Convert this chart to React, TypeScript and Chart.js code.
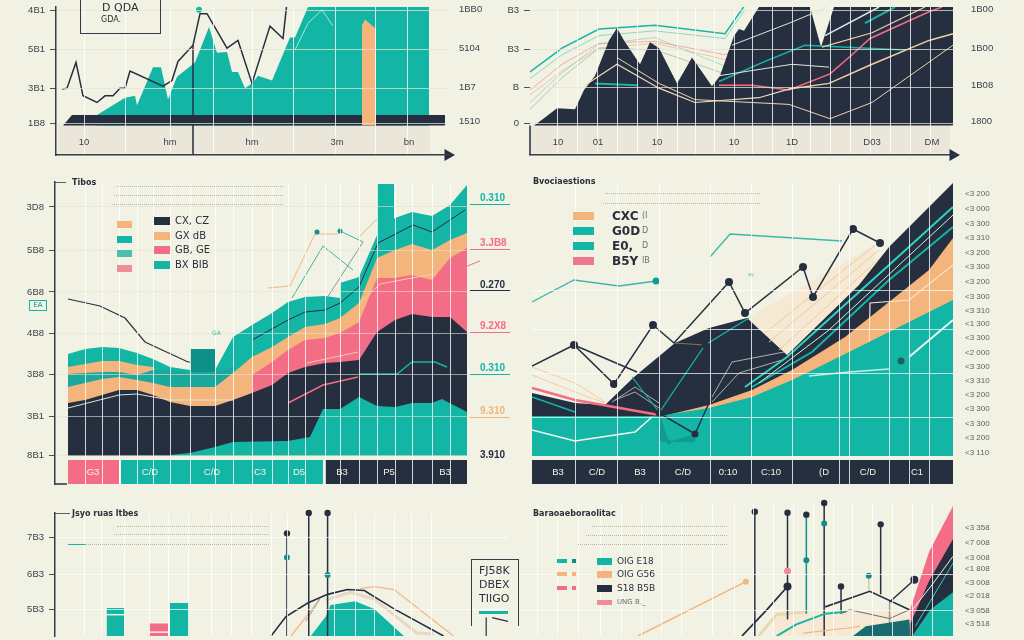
import React, { useEffect, useRef } from "react";
import { Chart, registerables } from "chart.js";
Chart.register(...registerables);

const TEAL = "#13b5a5", DARK = "#262f40", PEACH = "#f3b57c", PINK = "#f36d86", BAND = "#eae7da", DTEAL = "#0e8f88", PALE = "#f6e9d3", GREY = "#9aa09c";

// ---- top left
const tlTealX = [41,69,79,81,97,105,112,121,139,153,161,171,176,182,189,196,202,216,234,239,252,373];
const tlTealY = [11,29,31,21,61,61,27,51,66,103,76,77,56,56,39,44,52,47,92,92,124,124];
const tlBarX = [7,16,389,389];
const tlBarY = [0,11,11,0];
const tlPeachX = [306,306,309,320,320];
const tlPeachY = [0,105,111,101,0];
const tlLineX = [6,11,20,27,41,49,57,64,69,74,107,116,122,137,144,151,171,182,196,214,227,231];
const tlLineY = [38,39,66,31,24,31,31,39,39,57,41,47,67,84,117,117,81,89,44,104,91,129];
const tlThinX = [239,252,266,277];
const tlThinY = [79,107,121,104];
const tlGridX = [28,69,114,157,196,237,279,319,351];
const tlTicksY = [120,80,39,2];
const tlLabelsY = ["4B1","5B1","3B1","1B8"];
const tlTicksR = [121,81,40,4];
const tlLabelsR = ["1BB0","5104","1B7","1510"];
const tlTicksX = [28,114,196,281,353];
const tlLabelsX = ["10","hm","hm","3m","bn"];

// ---- top right
const trDarkX = [4,12,27,45,54,65,79,87,94,110,120,129,147,162,182,190,204,209,214,229,280,291,304,423,423];
const trDarkY = [0,6,18,17,37,52,89,102,89,64,87,81,44,71,41,52,94,101,99,124,124,82,124,124,0];
const trFanX = [0,32,69,125,195,215];
const trFan1 = [56,81,101,105,96,126];
const trFan2 = [49,74,94,99,91,121];
const trFan3 = [37,64,86,88,74,85];
const trFan4 = [32,57,81,86,69,75];
const trFan5 = [17,50,81,79,54,60];
const trFan6 = [24,55,85,92,62,68];
const trPinkX = [189,222,259,300,322,340,399,412];
const trPinkY = [42,42,37,54,74,91,119,124];
const trPeachX = [259,299,342,399,423];
const trPeachY = [38,44,64,89,96];
const trPaleX = [55,87,129,165,229,262];
const trPaleY = [42,64,39,24,29,39];
const trLowX = [87,129,165,259,300,342,423];
const trLowY = [71,44,27,22,7,24,84];
const trTealX = [65,107];
const trTealY = [44,42];
const trTeal2X = [189,235,275,375];
const trTeal2Y = [46,67,84,79];
const trWhite1X = [202,259,298];
const trWhite1Y = [84,107,124];
const trWhite2X = [189,262,299];
const trWhite2Y = [52,64,61];
const trWhite3X = [295,349];
const trWhite3Y = [94,124];
const trWhite4X = [292,342,395];
const trWhite4Y = [82,97,124];
const trTeal3X = [335,365];
const trTeal3Y = [107,124];
const trGridX = [27,47,67,87,107,127,147,165,184,204,222,242,262,280,300,320,340,360,380,400];
const trTicksY = [120,80,40,2];
const trLabelsY = ["B3","B3","B","0"];
const trTicksR = [121,81,42,4];
const trLabelsR = ["1B00","1B00","1B08","1800"];
const trTicksX = [28,68,127,204,262,342,402];
const trLabelsX = ["10","01","10","10","1D","D03","DM"];

// ---- middle left
const mlTopX = [13,30,47,64,82,98,115,135,160,178,197,217,233,250,270,285,285,304,322,340,357,377,395,412];
const mlTopY = [102,107,109,108,103,97,89,86,86,119,131,143,154,159,160,158,173,179,221,238,244,240,251,271];
const mlBar1X = [135,135,160,160];
const mlBar1Y = [0,107,107,0];
const mlBar2X = [322,322,339,339];
const mlBar2Y = [0,272,272,0];
const mlPeachUpX = [13,47,64,82,98,102];
const mlPeachUpY = [89,95,95,91,89,83];
const mlStripX = [13,47,64,82,98,115,135,160,178];
const mlStripY = [82,84,84,81,86,86,84,84,89];
const mlCommonX = [13,30,47,64,82,98,115,135,160,178,197,217,233,250,270,285,304,322,340,357,377,395,412];
const mlPeachY = [69,73,77,79,76,73,69,69,69,83,99,109,119,129,132,138,153,198,206,212,206,216,223];
const mlPinkX = [197,217,233,250,270,285,304,322,340,357,377,395,412];
const mlPinkY = [81,94,106,116,118,123,134,178,178,181,176,198,208];
const mlDarkY = [53,56,61,66,66,61,54,50,50,56,63,71,83,89,93,94,96,124,136,142,139,139,124];
const mlLowX = [115,135,160,178,233,255,268,285,304,322,340,357,377,387,412];
const mlLowY = [1,3,9,14,15,19,47,47,59,50,49,53,53,57,44];
const mlLeadX = [13,45,70,90,133,155];
const mlLeadY = [157,150,138,114,94,94];
const mlRidgeX = [197,233,250,270,285,304,323,358,377,410];
const mlRidgeY = [116,136,144,146,153,169,213,231,224,246];
const mlPeachLineX = [213,235,260,283];
const mlPeachLineY = [168,170,222,222];
const mlTealLineX = [237,268,298];
const mlTealLineY = [158,210,186];
const mlDotX = [262,285];
const mlDotY = [224,225];
const mlDotLineX = [285,308];
const mlDotLineY = [225,214];
const mlBlueX = [272,308];
const mlBlueY = [158,214];
const mlPeach2X = [303,322];
const mlPeach2Y = [218,237];
const mlPinkOutX = [377,425];
const mlPinkOutY = [176,195];
const mlPinkInX = [233,268,303];
const mlPinkInY = [53,71,79];
const mlTealInX = [304,342,357,380,392];
const mlTealInY = [82,82,94,94,89];
const mlWhiteX = [13,64,82,115,178];
const mlWhiteY = [48,61,62,56,56];
const mlPaleX = [252,303];
const mlPaleY = [93,104];
const mlPale2X = [305,325,378];
const mlPale2Y = [153,172,182];
const mlGridX = [30,47,64,82,98,115,135,160,178,197,217,233,250,270,285,304,322,340,357,377,395];
const mlTicksY = [249,206,164,123,82,40,1];
const mlLabelsY = ["3D8","5B8","6B8","4B8","3B8","3B1","8B1"];
const mlTicksR = [252,207,165,124,82,39,-5];
const mlLabelsR = ["0.310","3.JB8","0.270","9.2X8","0.310","9.310","3.910"];
const mlColorsR = [TEAL,PINK,DARK,PINK,TEAL,PEACH,DARK];
const mlTicksX = [38,95,157,205,244,287,334,390];
const mlLabelsX = ["G3","C/D","C/D","C3","D5","B3","P5","B3"];

// ---- middle right
const mrTealX = [0,127,177,220,260,307,357,397,421];
const mrTealY = [40,40,48,59,76,99,124,144,156];
const mrPeachX = [127,177,220,260,313,357,397,421];
const mrPeachY = [39,51,66,86,119,154,186,218];
const mrDarkX = [0,43,73,102,143,177,215,255,327,357,421];
const mrDarkY = [63,53,51,79,113,128,138,101,171,209,273];
const mrCreamX = [215,343];
const mrCreamY = [138,211];
const mrBlackX = [0,42,82,121,142,197,213,271,281,321,348];
const mrBlackY = [90,111,72,131,113,174,143,189,159,227,213];
const mrBlack2X = [42,105];
const mrBlack2Y = [111,84];
const mrBlack3X = [127,163,177];
const mrBlack3Y = [43,22,53];
const mrBrownX = [142,173];
const mrBrownY = [113,111];
const mrDots2X = [127,163,173];
const mrDots2Y = [43,22,111];
const mrTeal1X = [0,42,87,124];
const mrTeal1Y = [154,176,170,175];
const mrPaleTX = [124,178];
const mrPaleTY = [175,199];
const mrTeal2X = [178,198,310];
const mrTeal2Y = [199,222,215];
const mrWhite1X = [0,43,103,120];
const mrWhite1Y = [26,15,24,39];
const mrWhite2X = [277,317,357];
const mrWhite2Y = [80,84,87];
const mrWhite3X = [377,421];
const mrWhite3Y = [99,136];
const mrTealMidX = [127,173,217];
const mrTealMidY = [43,111,138];
const mrWedgeX = [128,137,163];
const mrWedgeY = [41,14,22];
const mrTealLeftX = [100,127];
const mrTealLeftY = [79,44];
const mrFastAX = [213,255,357,421];
const mrFastAY = [69,99,191,249];
const mrFastBX = [220,280,357,421];
const mrFastBY = [69,104,176,229];
const mrFastCX = [227,297,421];
const mrFastCY = [73,126,241];
const mrLeftX = [0,43,73];
const mrLeft1Y = [89,73,54];
const mrLeft2Y = [81,64,53];
const mrPinkX = [0,43,127];
const mrPinkY = [68,56,41];
const mrLeftTX = [0,43];
const mrLeftTY = [59,44];
const mrHump1X = [180,200,252];
const mrHump1Y = [59,94,104];
const mrHump2X = [180,207,250];
const mrHump2Y = [54,83,96];
const mrHump3X = [80,103,127];
const mrHump3Y = [54,69,53];
const mrHump4X = [83,103,127];
const mrHump4Y = [56,64,48];
const mrRay1X = [233,343];
const mrRay1Y = [123,211];
const mrRay2X = [237,347];
const mrRay2Y = [114,206];
const mrRay3X = [247,348];
const mrRay3Y = [106,198];
const mrPeakX = [337,338,377,421];
const mrPeakY = [104,153,156,191];
const mrGridX = [43,85,127,178,220,260,307,317,357,377,397];
const mrGridY = [166,126,83,39];
const mrTicksR = [262,247,232,218,203,189,174,159,145,132,118,103,89,75,61,47,32,18,3];
const mrLabelsR = ["<3 200","<3 000","<3 300","<3 310","<3 200","<3 300","<3 200","<3 300","<3 310","<1 300","<3 300","<2 000","<3 300","<3 310","<3 200","<3 300","<3 300","<3 200","<3 110"];
const mrTicksX = [26,65,108,151,196,239,292,336,385];
const mrLabelsX = ["B3","C/D","B3","C/D","0:10","C:10","(D","C/D","C1"];

// ---- bottom left
const blBar1X = [52,52,70,70];
const blBar1Y = [0,29,29,0];
const blBar2X = [95,95,114,114];
const blBar2Y = [0,13,13,0];
const blBar3X = [116,116,135,135];
const blBar3Y = [0,34,34,0];
const blHumpX = [258,273,278,303,322,352];
const blHumpY = [0,20,32,36,28,0];
const blCurveX = [218,233,255,275,295,312,342,392];
const blCurveY = [0,20,34,43,48,47,28,0];
const blPeach1X = [238,252,267];
const blPeach1Y = [0,18,38];
const blPeach2X = [308,322,342,402];
const blPeach2Y = [49,51,48,0];
const blBeigeX = [273,298,322,365,382];
const blBeigeY = [37,45,38,3,2];
const blGreyX = [253,267];
const blGreyY = [15,38];
const blStemX = [234,256,275];
const blStemTop = [106,127,127];
const blTealDotX = [234,275];
const blTealDotY = [81,63];
const blPointerX = [441,457];
const blPointerY = [19,15];
const blGridX = [30,47,70,95,115,135,158,178,198,218,235,282,303,322,342,360,380];
const blTicksY = [102,64,27];
const blLabelsY = ["7B3","6B3","5B3"];

// ---- bottom right
const brPinkX = [398,417,441];
const brPinkY = [28,87,134];
const brDarkX = [398,417,441];
const brDarkY = [13,57,100];
const brTealX = [400,418,441];
const brTealY = [0,27,45];
const brDeepX = [340,353,397,398];
const brDeepY = [0,10,17,0];
const brCreamX = [260,293,397];
const brCreamY = [25,27,27];
const brBeigeX = [245,263,293];
const brBeigeY = [0,22,25];
const brTealLineX = [263,283,312,333];
const brTealLineY = [0,12,23,25];
const brPeachLowX = [290,333,347];
const brPeachLowY = [3,8,10];
const brWhiteX = [400,420,441];
const brWhiteY = [27,53,82];
const brTealThinX = [403,441];
const brTealThinY = [10,75];
const brPeachX = [123,232];
const brPeachY = [0,56];
const brBlackX = [228,253,274];
const brBlackY = [0,27,51];
const brBlack2X = [312,357,397];
const brBlack2Y = [30,46,27];
const brGreyX = [328,337,377,397];
const brGreyY = [23,27,18,27];
const brArmX = [377,402];
const brArmY = [35,58];
const brStemsX = [241,274,311,368,328];
const brStemsTop = [128,127,137,115,51];
const brStemsLow = [0,17,0,43,23];
const brGridX = [22,42,63,85,106,127,147,167,198,220,240,260,280,300,320,340,360,380,400,420];
const brGridY = [63,26];
const brTicksR = [111,96,81,69,55,41,26,13];
const brLabelsR = ["<3 358","<7 008","<3 008","<1 808","<3 008","<2 018","<3 058","<3 518"];

type Opt = Record<string, any>;
const pts = (x: number[], y: number[]) => x.map((v, i) => ({ x: v, y: y[i] }));
const area = (x: number[], y: number[], c: string, fill: any = "origin"): Opt => ({ data: pts(x, y), backgroundColor: c, borderColor: c, borderWidth: 0, fill, pointRadius: 0, tension: 0 });
const line = (x: number[], y: number[], c: string, w = 1, more: Opt = {}): Opt => ({ data: pts(x, y), borderColor: c, borderWidth: w, fill: false, pointRadius: 0, tension: 0, ...more });
const dots = (x: number[], y: number[], c: string, r = 3, more: Opt = {}): Opt => ({ data: pts(x, y), backgroundColor: c, borderColor: c, showLine: false, pointRadius: r, pointBorderWidth: 0, clip: false, ...more });
const stems = (x: number[], top: number[], low: number[], c: string, w = 1.5): Opt[] => x.map((v, i) => line([v, v], [low[i], top[i]], c, w, { clip: false }));
const arrow = (x: number, y: number): Opt => dots([x], [y], DARK, 7, { pointStyle: "triangle", rotation: 90 });

const fixFit = (size: Record<string, number>) => (s: any) => {
  Object.assign(s, size);
  s.paddingTop = s.paddingBottom = s.paddingLeft = s.paddingRight = 0;
};
const setTicks = (vals: number[]) => (s: any) => { s.ticks = vals.map((value) => ({ value })); };
const font = { family: "'Liberation Sans'", size: 9.5 };

type PanelCfg = {
  left: number; top: number; w: number; h: number; leftW: number; rightW: number; bottomH: number; padTop: number;
  xMax: number; yMin: number; yMax: number; xGrid: number[]; yGrid: number[];
  gridColor?: string; yColor?: string; yLabels?: string[]; yAxisLine?: boolean; xAxisLine?: boolean;
  rTicks?: number[]; rLabels?: string[]; rColors?: string[]; rLen?: number; rPad?: number; rOffset?: number; rFont?: Opt;
  xTicks?: number[]; xLabels?: string[]; xAt?: number; xColor?: string; sets: Opt[];
};

function Panel({ c }: { c: PanelCfg }) {
  const ref = useRef<HTMLCanvasElement>(null);
  useEffect(() => {
    const n = c.sets.length;
    const datasets = c.sets.map((d, i) => ({ type: "line", xAxisID: "x", yAxisID: "y", order: n - i, ...d }));
    const chart = new Chart(ref.current as HTMLCanvasElement, {
      type: "line",
      data: { datasets } as any,
      options: {
        animation: false, responsive: false, maintainAspectRatio: false,
        layout: { padding: { top: c.padTop, left: 0, right: 0, bottom: 0 } },
        plugins: { legend: { display: false }, title: { display: false }, tooltip: { enabled: false } },
        scales: {
          x: {
            type: "linear", min: 0, max: c.xMax, position: "bottom",
            afterFit: fixFit({ height: c.bottomH }), afterBuildTicks: setTicks(c.xGrid),
            ticks: { display: false, autoSkip: false },
            grid: { color: c.gridColor ?? "rgba(255,255,255,0.78)", z: 1, drawTicks: false, lineWidth: 1 },
            border: { display: !!c.xAxisLine, color: "#333a4a", width: 1.5, z: 2 },
          },
          xl: {
            type: "linear", axis: "x", min: 0, max: c.xMax, position: { y: c.xAt ?? 0 },
            afterFit: fixFit({ height: 0 }), afterBuildTicks: setTicks(c.xTicks ?? []),
            ticks: { z: 3, padding: 0, autoSkip: false, maxRotation: 0, minRotation: 0, font, color: c.xColor ?? "#3a3f4a", callback: (_v: any, i: number) => (c.xLabels ?? [])[i] ?? "" },
            grid: { display: false, drawTicks: false }, border: { display: false },
          },
          y: {
            type: "linear", min: c.yMin, max: c.yMax, position: "left",
            afterFit: fixFit({ width: c.leftW }), afterBuildTicks: setTicks(c.yGrid),
            ticks: { display: !!c.yLabels, font, color: "#3a3f4a", padding: 5, autoSkip: false, callback: (_v: any, i: number) => (c.yLabels ?? [])[i] ?? "" },
            grid: { color: c.yColor ?? "rgba(228,228,212,0.75)", z: 1, drawTicks: !!c.yLabels, tickLength: 6, tickColor: "#4a505c", lineWidth: 1 },
            border: { display: !!c.yAxisLine, color: "#333a4a", width: 1.5, z: 2 },
          },
          yr: {
            type: "linear", axis: "y", min: c.yMin, max: c.yMax, position: "right",
            afterFit: fixFit({ width: c.rightW }), afterBuildTicks: setTicks(c.rTicks ?? []),
            ticks: {
              font: c.rFont ?? font, padding: c.rPad ?? 9, labelOffset: c.rOffset ?? 0, autoSkip: false,
              color: (ctx: any) => (c.rColors ?? [])[ctx.index] ?? "#3a3f4a",
              callback: (_v: any, i: number) => (c.rLabels ?? [])[i] ?? "",
            },
            grid: {
              drawOnChartArea: false, drawTicks: !!c.rLen, tickLength: c.rLen ?? 0,
              tickColor: (ctx: any) => (ctx.index === (c.rTicks ?? []).length - 1 ? "transparent" : (c.rColors ?? [])[ctx.index] ?? "transparent"),
            },
            border: { display: false },
          },
        },
      } as any,
    });
    return () => chart.destroy();
  }, []);
  return <canvas ref={ref} width={c.w} height={c.h} style={{ position: "absolute", left: c.left, top: c.top, width: c.w, height: c.h, display: "block" }} />;
}

const topLeft: PanelCfg = {
  left: 0, top: 0, w: 512, h: 163, leftW: 56, rightW: 62, bottomH: 8, padTop: 0, xMax: 394, yMin: -31, yMax: 124,
  xGrid: tlGridX, yGrid: tlTicksY, yLabels: tlLabelsY, yAxisLine: true, xAxisLine: true,
  rTicks: tlTicksR, rLabels: tlLabelsR, rPad: 9, xTicks: tlTicksX, xLabels: tlLabelsX, xAt: -12,
  sets: [
    area([2, 374], [-29, -29], BAND),
    area(tlTealX.concat([373]), tlTealY.concat([11]), TEAL),
    line(tlThinX, tlThinY, "#9fe8dc", 1),
    area(tlBarX, tlBarY, DARK),
    area(tlPeachX, tlPeachY, PEACH),
    line(tlLineX, tlLineY, DARK, 1.5),
    line([137, 137], [84, -31], DARK, 1.5),
    dots([143], [121], TEAL, 3),
    arrow(392, -31),
  ],
};

const topRight: PanelCfg = {
  left: 490, top: 0, w: 534, h: 163, leftW: 40, rightW: 69, bottomH: 8, padTop: 0, xMax: 425, yMin: -31, yMax: 124,
  xGrid: trGridX, yGrid: trTicksY, yLabels: trLabelsY, xAxisLine: true,
  rTicks: trTicksR, rLabels: trLabelsR, rPad: 16, xTicks: trTicksX, xLabels: trLabelsX, xAt: -12,
  sets: [
    area([0, 420], [-29, -29], BAND),
    line(trFanX, trFan2, "rgba(19,181,165,0.45)", 1),
    line(trFanX, trFan3, "rgba(243,109,134,0.55)", 1),
    line(trFanX, trFan4, "rgba(243,181,124,0.7)", 1),
    line(trFanX, trFan5, "rgba(140,170,160,0.6)", 1),
    line(trFanX, trFan6, "rgba(19,181,165,0.35)", 1),
    line(trFanX, trFan1, TEAL, 1.5),
    area(trDarkX, trDarkY, DARK),
    line(trTealX, trTealY, TEAL, 2),
    line(trTeal2X, trTeal2Y, TEAL, 1.5),
    line(trPinkX, trPinkY, PINK, 1.5),
    line(trPeachX, trPeachY, "#f1cfa6", 1.5),
    line(trPaleX, trPaleY, "#f1d9bd", 1.2),
    line(trLowX, trLowY, "#eed2ae", 1),
    line(trWhite1X, trWhite1Y, "#dfe6dc", 1),
    line(trWhite2X, trWhite2Y, "#dfe6dc", 1),
    line(trWhite3X, trWhite3Y, "#cfeee6", 1.5),
    line(trWhite4X, trWhite4Y, "#f1cfa6", 1.2),
    line(trTeal3X, trTeal3Y, TEAL, 2),
    line([0, 0], [0, -31], DARK, 1.5, { clip: false }),
    arrow(423, -31),
  ],
};

const midLeft: PanelCfg = {
  left: 0, top: 178, w: 512, h: 312, leftW: 55, rightW: 42, bottomH: 6, padTop: 4, xMax: 415, yMin: -28, yMax: 274,
  xGrid: mlGridX, yGrid: mlTicksY, yLabels: mlLabelsY, yAxisLine: true, yColor: "rgba(228,228,212,0.6)",
  rTicks: mlTicksR, rLabels: mlLabelsR, rColors: mlColorsR, rLen: 40, rPad: -30, rOffset: -6, rFont: { family: "'Liberation Sans'", size: 10, weight: "bold" },
  xTicks: mlTicksX, xLabels: mlLabelsX, xAt: -11, xColor: "#f4f2e6",
  sets: [
    line([0, 11], [274, 274], DARK, 1.5),
    line([0, 12], [-28, -28], DARK, 1.5, { clip: false }),
    line(mlLeadX, mlLeadY, DARK, 1.2),
    area(mlTopX, mlTopY, TEAL),
    area(mlBar1X, mlBar1Y, DTEAL),
    area(mlBar2X, mlBar2Y, TEAL),
    line(mlRidgeX, mlRidgeY, DARK, 1),
    area(mlPeachUpX, mlPeachUpY, PEACH),
    area(mlStripX, mlStripY, "#1aa99c"),
    area(mlCommonX, mlPeachY, PEACH),
    area(mlPinkX, mlPinkY, PINK),
    line(mlPale2X, mlPale2Y, "#f8cfa8", 1),
    line(mlPaleX, mlPaleY, "#f7c9ad", 1),
    area(mlCommonX, mlDarkY, DARK),
    area(mlLowX, mlLowY, TEAL),
    line(mlWhiteX, mlWhiteY, "#dfe0d6", 1),
    line(mlPinkInX, mlPinkInY, PINK, 1.5),
    line(mlTealInX, mlTealInY, TEAL, 1.5),
    line(mlPeachLineX, mlPeachLineY, PEACH, 1),
    line(mlTealLineX, mlTealLineY, "#3db4a8", 1),
    line(mlBlueX, mlBlueY, "#7f9a9f", 1),
    line(mlDotLineX, mlDotLineY, "#3db4a8", 1),
    line(mlPeach2X, mlPeach2Y, PEACH, 1),
    dots(mlDotX, mlDotY, DTEAL, 2.5),
    line(mlPinkOutX, mlPinkOutY, PINK, 1, { clip: false }),
    dots([425], [195], PINK, 2.5),
    area([13, 64], [-4, -4], PINK, { value: -28 }),
    area([66, 268], [-4, -4], TEAL, { value: -28 }),
    area([270, 412], [-4, -4], DARK, { value: -28 }),
  ],
};

const midRight: PanelCfg = {
  left: 512, top: 178, w: 512, h: 312, leftW: 20, rightW: 71, bottomH: 6, padTop: 4, xMax: 421, yMin: -28, yMax: 274,
  xGrid: mrGridX, yGrid: mrGridY, yColor: "rgba(255,255,255,0.7)",
  rTicks: mrTicksR, rLabels: mrLabelsR, rPad: 12, rFont: { family: "'Liberation Sans'", size: 8 }, rColors: mrTicksR.map(() => "#5d6268"),
  xTicks: mrTicksX, xLabels: mrLabelsX, xAt: -11, xColor: "#f4f2e6",
  sets: [
    area(mrCreamX, mrCreamY, PALE),
    line(mrTeal1X, mrTeal1Y, "#39b8aa", 1.3),
    line(mrPaleTX, mrPaleTY, "#eef1e4", 1.3),
    line(mrTeal2X, mrTeal2Y, "#39b8aa", 1.3),
    line(mrLeftX, mrLeft1Y, "#f5cba0", 1),
    line(mrLeftX, mrLeft2Y, "#f5cba0", 1),
    area(mrDarkX, mrDarkY, DARK),
    line(mrRay1X, mrRay1Y, "#f3c99e", 1),
    line(mrRay2X, mrRay2Y, "#f3c99e", 1),
    line(mrRay3X, mrRay3Y, "#f3c99e", 1),
    line(mrHump1X, mrHump1Y, "#aab0ae", 1),
    line(mrHump2X, mrHump2Y, "#aab0ae", 1),
    line(mrHump3X, mrHump3Y, "#aab0ae", 1),
    line(mrHump4X, mrHump4Y, "#aab0ae", 1),
    line(mrFastAX, mrFastAY, "#2dd4bf", 2),
    line(mrFastBX, mrFastBY, TEAL, 2),
    line(mrFastCX, mrFastCY, "#bdf5e8", 1),
    area(mrPeachX, mrPeachY, PEACH),
    line(mrPeakX, mrPeakY, "#fbe3c8", 1.2),
    line(mrPinkX, mrPinkY, PINK, 2.5),
    area(mrTealX, mrTealY, TEAL),
    line(mrLeftTX, mrLeftTY, TEAL, 1.5),
    area(mrWedgeX, mrWedgeY, "#109c90", { value: 14 }),
    line(mrWhite1X, mrWhite1Y, "#f4f7ee", 1.5),
    line(mrWhite2X, mrWhite2Y, "#bff0e4", 1.5),
    line(mrWhite3X, mrWhite3Y, "#e6faf2", 2),
    line(mrTealMidX, mrTealMidY, TEAL, 1.3),
    line(mrTealLeftX, mrTealLeftY, TEAL, 1.2),
    line(mrBrownX, mrBrownY, "#8c6f60", 1),
    line(mrBlack2X, mrBlack2Y, DARK, 1.5),
    line(mrBlack3X, mrBlack3Y, DARK, 1.5),
    line(mrBlackX, mrBlackY, DARK, 1.5),
    dots(mrBlackX.slice(1, 4).concat(mrBlackX.slice(5)), mrBlackY.slice(1, 4).concat(mrBlackY.slice(5)), DARK, 4),
    dots(mrDots2X, mrDots2Y, DARK, 3.5),
    dots([124], [175], "#109c90", 3.5),
    dots([369], [95], "#1f5f62", 3.5),
    dots([137], [14], "#109c90", 2.5),
    area([0, 421], [-4, -4], DARK, { value: -28 }),
  ],
};

const botLeft: PanelCfg = {
  left: 0, top: 505, w: 512, h: 135, leftW: 55, rightW: 0, bottomH: 0, padTop: 8, xMax: 457, yMin: 0, yMax: 127,
  xGrid: blGridX, yGrid: blTicksY, yLabels: blLabelsY, yAxisLine: true, yColor: "rgba(255,255,255,0.7)",
  sets: [
    line([0, 15], [127, 127], DARK, 1.5),
    area(blBar1X, blBar1Y, TEAL),
    line([52, 70], [22, 22], "#f2f2e4", 1.5),
    area(blBar2X, blBar2Y, PINK),
    line([95, 114], [4, 4], "#f2f2e4", 1.5),
    area(blBar3X, blBar3Y, TEAL),
    line(blBeigeX, blBeigeY, "#e6d8c2", 3),
    area(blHumpX, blHumpY, TEAL),
    line(blPeach1X, blPeach1Y, PEACH, 1.3),
    line(blPeach2X, blPeach2Y, "#f0b888", 1.3),
    line(blGreyX, blGreyY, GREY, 1),
    ...stems(blStemX, blStemTop, [0, 0, 0], DARK, 1.5),
    line(blCurveX, blCurveY, DARK, 1.6),
    dots(blStemX, blStemTop, DARK, 3.2),
    dots(blTealDotX, blTealDotY, DTEAL, 3),
    line([435, 435], [0, 19], DARK, 1.2),
    line(blPointerX, blPointerY, DARK, 1.2),
  ],
};

const botRight: PanelCfg = {
  left: 512, top: 497, w: 512, h: 143, leftW: 0, rightW: 71, bottomH: 0, padTop: 6, xMax: 441, yMin: 0, yMax: 137,
  xGrid: brGridX, yGrid: brGridY, yColor: "rgba(255,255,255,0.7)",
  rTicks: brTicksR, rLabels: brLabelsR, rPad: 12, rFont: { family: "'Liberation Sans'", size: 8 }, rColors: brTicksR.map(() => "#5d6268"),
  sets: [
    area(brCreamX, brCreamY, PALE),
    line(brBeigeX, brBeigeY, "#e9d7b4", 3),
    line(brPeachX, brPeachY, PEACH, 1.5),
    dots([232], [56], PEACH, 3),
    ...stems(brStemsX, brStemsTop, brStemsLow, DARK, 1.5),
    line([293, 293], [23, 125], DTEAL, 1.5),
    line([356, 356], [47, 62], "#c9c8b8", 1.5),
    line([377, 377], [0, 35], GREY, 1.5),
    line(brTealLineX, brTealLineY, TEAL, 2),
    line(brPeachLowX, brPeachLowY, PEACH, 1.2),
    area(brDeepX, brDeepY, "#1a6b6f"),
    area(brPinkX, brPinkY, PINK),
    area(brDarkX, brDarkY, DARK),
    area(brTealX, brTealY, TEAL),
    line(brWhiteX, brWhiteY, "#e8f7ee", 1),
    line(brTealThinX, brTealThinY, "#2dd4bf", 1),
    line(brGreyX, brGreyY, "#6c6f72", 1),
    line(brBlackX, brBlackY, DARK, 1.8),
    line(brBlack2X, brBlack2Y, DARK, 1.6),
    line(brArmX, brArmY, DARK, 1.5),
    dots([241, 274, 293, 311, 368, 328], [128, 127, 125, 137, 115, 51], DARK, 3.2),
    dots([274, 402], [51, 58], DARK, 4),
    dots([293, 311, 356], [78, 116, 62], DTEAL, 3),
    dots([274], [67], "#f08a98", 3.5),
  ],
};

const panels = [topLeft, topRight, midLeft, midRight, botLeft, botRight];

// legends, titles and notes
const mlSwatches = [PEACH, TEAL, "#4dbfb0", "#ee8c97"];
const mlKeys = [DARK, PEACH, PINK, TEAL];
const mlNames = ["CX, CZ", "GX dB", "GB, GE", "BX BIB"];
const mlPos = [221, 236, 250, 265];
const mrSwatches = [PEACH, TEAL, TEAL, "#f0788e"];
const mrNames = ["CXC", "G0D", "E0,", "B5Y"];
const mrNotes = ["(I", "D", "D", "IB"];
const mrPos = [216, 231, 246, 261];
const brSwatches = [TEAL, PEACH, DARK, "#ee8c97"];
const brNames = ["OIG E18", "OIG G56", "S18 B5B", "UNG B._"];
const brPos = [561, 574, 588, 602];
const blNotes = ["FJ58K", "DBEX", "TIIGO"];

const T = ({ x, y, s = 9, w = 400, c = "#2a2f3a", f = "'DejaVu Sans'", children }: any) => (
  <div style={{ position: "absolute", left: x, top: y - s / 2 - 1, fontSize: s, lineHeight: `${s + 2}px`, fontWeight: w, color: c, fontFamily: f, whiteSpace: "nowrap" }}>{children}</div>
);
const Sw = ({ x, y, w, h, c }: any) => <div style={{ position: "absolute", left: x, top: y - h / 2, width: w, height: h, background: c }} />;
const Dots = ({ x, y, w, c = "#b9b9a8" }: any) => <div style={{ position: "absolute", left: x, top: y, width: w, borderTop: `1px dotted ${c}` }} />;

export default function App() {
  return (
    <div style={{ position: "absolute", left: 0, top: 0, width: 1024, height: 640, overflow: "hidden", background: "#f2f2e4" }}>
      {panels.map((c, i) => <Panel key={i} c={c} />)}

      <div style={{ position: "absolute", left: 80, top: -4, width: 79, height: 36, border: "1.5px solid #333a4a" }} />
      <T x={102} y={7} s={11}>D QDA</T>
      <T x={101} y={20} s={8}>GDA.</T>

      <T x={72} y={183} s={8} w={700}>Tibos</T>
      <Dots x={116} y={186} w={167} /><Dots x={114} y={195} w={169} /><Dots x={112} y={204} w={171} />
      {mlPos.map((y, i) => (
        <React.Fragment key={i}>
          <Sw x={117} y={y + 3} w={15} h={7} c={mlSwatches[i]} />
          <Sw x={154} y={y} w={16} h={8} c={mlKeys[i]} />
          <T x={175} y={y} s={10}>{mlNames[i]}</T>
        </React.Fragment>
      ))}
      <div style={{ position: "absolute", left: 29, top: 300, width: 16, height: 9, border: "1px solid #13b5a5", fontSize: 7, lineHeight: "9px", color: "#0e8f88", textAlign: "center", fontFamily: "'DejaVu Sans'" }}>EA</div>
      <T x={212} y={333} s={6} c="#3db4a8">GA</T>

      <T x={533} y={182} s={8} w={700}>Bvociaestions</T>
      <Dots x={606} y={193} w={154} /><Dots x={603} y={203} w={157} />
      {mrPos.map((y, i) => (
        <React.Fragment key={i}>
          <Sw x={573} y={y} w={21} h={7.5} c={mrSwatches[i]} />
          <T x={612} y={y} s={12} w={700}>{mrNames[i]}</T>
          <T x={642} y={y} s={8} c="#6a6e74">{mrNotes[i]}</T>
        </React.Fragment>
      ))}
      <T x={748} y={274} s={5} c="#5bb9b2">av</T>

      <T x={72} y={514} s={8} w={700}>Jsyo ruas ltbes</T>
      <Dots x={117} y={526} w={152} /><Dots x={114} y={534} w={155} /><Dots x={85} y={544} w={184} />
      <div style={{ position: "absolute", left: 68, top: 544, width: 17, borderTop: "1px solid #13b5a5" }} />
      <div style={{ position: "absolute", left: 471, top: 559, width: 46, height: 66, borderTop: "1.5px solid #333a4a", borderLeft: "1.5px solid #333a4a", borderRight: "1.5px solid #333a4a" }} />
      {blNotes.map((t, i) => <T key={i} x={479} y={570 + i * 14} s={11}>{t}</T>)}
      <Sw x={479} y={612} w={29} h={3} c={TEAL} />

      <T x={533} y={514} s={8} w={700}>Baraoaeboraolitac</T>
      <Dots x={592} y={526} w={135} /><Dots x={586} y={535} w={141} /><Dots x={578} y={544} w={149} />
      {brPos.slice(0, 3).map((y, i) => (
        <React.Fragment key={i}>
          <Sw x={557} y={y} w={10} h={4} c={[TEAL, PEACH, PINK][i]} />
          <Sw x={572} y={y} w={4} h={4} c={[DTEAL, PEACH, PINK][i]} />
        </React.Fragment>
      ))}
      {brPos.map((y, i) => (
        <React.Fragment key={i}>
          <Sw x={597} y={y} w={15} h={i === 3 ? 5 : 7} c={brSwatches[i]} />
          <T x={617} y={y} s={i === 3 ? 7 : 9} c={i === 3 ? "#6a6e74" : "#2a2f3a"}>{brNames[i]}</T>
        </React.Fragment>
      ))}
    </div>
  );
}
